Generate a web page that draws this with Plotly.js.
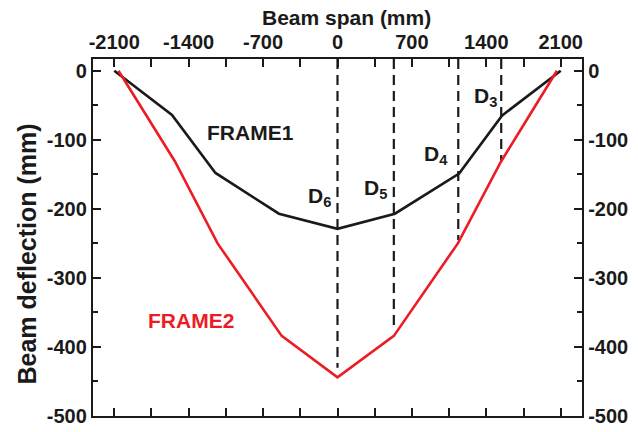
<!DOCTYPE html>
<html>
<head>
<meta charset="utf-8">
<script src="https://cdn.plot.ly/plotly-3.0.1.min.js"></script>
<style>html,body{margin:0;padding:0;background:#fff;}#chart{width:638px;height:432px;}</style>
</head>
<body>
<div id="chart"></div>
<script>
// Data
var frame1X = [-2100, -1557, -1148, -551, 0, 540, 1144, 1547, 2100];
var frame1Y = [0, -64, -148, -207, -229, -207, -149, -65, 0];
var frame2X = [-2060, -1530, -1128, -525, 0, 530, 1132, 1540, 2064];
var frame2Y = [0, -131, -250, -384, -444, -384, -250, -131, 0];
// measurement stations (dashed lines): x and lower end of line
var stationNames = ["D6", "D5", "D4", "D3"];
var stationX = [0, 530, 1136, 1540];
var stationBottom = [-430, -370, -245, -131];
var xTicks = [-2100, -1400, -700, 0, 700, 1400, 2100];
var yTicks = [0, -100, -200, -300, -400, -500];

var FONT = "Arial, 'Liberation Sans', sans-serif";
var yTop = 17;
var INK = '#1a1a1a';

var traces = [];
for (var i = 0; i < stationX.length; i++) {
  traces.push({
    x: [stationX[i], stationX[i]], y: [yTop, stationBottom[i]],
    mode: 'lines', line: {color: INK, width: 2.2, dash: '10px,6px'},
    hoverinfo: 'skip', showlegend: false
  });
}
traces.push({x: frame1X, y: frame1Y, mode: 'lines', line: {color: INK, width: 2.6}, name: 'FRAME1', showlegend: false});
traces.push({x: frame2X, y: frame2Y, mode: 'lines', line: {color: '#ec1c24', width: 2.6}, name: 'FRAME2', showlegend: false});
traces.push({x: [0], y: [0], yaxis: 'y2', mode: 'markers', marker: {opacity: 0}, hoverinfo: 'skip', showlegend: false});

var axisCommon = {
  showline: true, linecolor: INK, linewidth: 2.2, mirror: 'allticks',
  ticks: 'inside', ticklen: 8, tickwidth: 2, tickcolor: INK,
  showgrid: false, zeroline: false,
  tickfont: {family: FONT, size: 20, color: INK, weight: 'bold'}
};

function dLabel(name) { return name.charAt(0) + '<sub>' + name.slice(1) + '</sub>'; }
var dPos = [[-167, -183], [354, -171], [928, -122], [1391, -38]];

var annotations = [
  {x: -818, y: -90, text: 'FRAME1', showarrow: false, font: {family: FONT, size: 21, weight: 'bold', color: INK}},
  {x: -1374, y: -361, text: 'FRAME2', showarrow: false, font: {family: FONT, size: 21, weight: 'bold', color: '#ec1c24'}},
  {xref: 'paper', yref: 'paper', x: 0.519, y: 1.115, xanchor: 'center', yanchor: 'middle',
   text: 'Beam span (mm)', showarrow: false, font: {family: FONT, size: 21, weight: 'bold', color: INK}},
  {xref: 'paper', yref: 'paper', x: -0.135, y: 0.455, xanchor: 'center', yanchor: 'middle', textangle: -90,
   text: 'Beam deflection (mm)', showarrow: false, font: {family: FONT, size: 25, weight: 'bold', color: INK}}
];
for (var j = 0; j < stationNames.length; j++) {
  annotations.push({x: dPos[j][0], y: dPos[j][1], text: dLabel(stationNames[j]), showarrow: false,
    font: {family: FONT, size: 21, weight: 'bold', color: INK}});
}

var layout = {
  width: 638, height: 432,
  margin: {l: 93, r: 56, t: 59, b: 16},
  paper_bgcolor: '#fff', plot_bgcolor: '#fff',
  font: {family: FONT, color: INK},
  xaxis: Object.assign({}, axisCommon, {
    side: 'top', range: [-2300, 2300], tickmode: 'array', tickvals: xTicks,
    ticktext: xTicks.map(String),
    minor: {dtick: 350, tick0: 0, ticks: 'inside', ticklen: 5, tickwidth: 2, tickcolor: INK}
  }),
  yaxis: Object.assign({}, axisCommon, {
    range: [-500, yTop], tickmode: 'array', tickvals: yTicks, ticktext: yTicks.map(String),
    minor: {dtick: 50, tick0: 0, ticks: 'inside', ticklen: 5, tickwidth: 2, tickcolor: INK}
  }),
  yaxis2: Object.assign({}, axisCommon, {
    overlaying: 'y', side: 'right', anchor: 'x', mirror: false,
    range: [-500, yTop], tickmode: 'array', tickvals: yTicks, ticktext: yTicks.map(String),
    minor: {dtick: 50, tick0: 0, ticks: 'inside', ticklen: 5, tickwidth: 2, tickcolor: INK}
  }),
  annotations: annotations
};

Plotly.newPlot('chart', traces, layout, {displayModeBar: false, staticPlot: true});
</script>
</body>
</html>
